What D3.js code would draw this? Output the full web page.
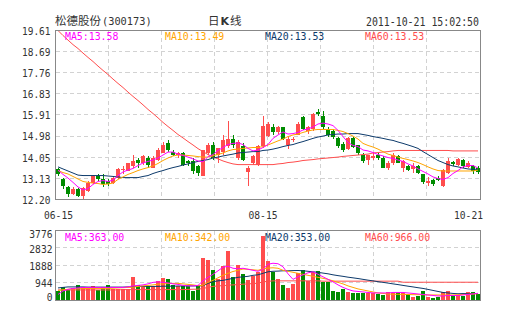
<!DOCTYPE html>
<html><head><meta charset="utf-8">
<script src="https://cdn.jsdelivr.net/npm/d3@7"></script>
<style>html,body{margin:0;padding:0;background:#fff}svg{display:block}</style>
</head><body>
<svg id="c" width="505" height="330"></svg>
<script>
// ---- data ----
const openP  = [13.52,13.08,12.73,12.42,12.64,12.35,12.57,12.94,13.25,13.10, 13.00,12.94,13.16,13.49,13.47,13.67,13.92,13.82,14.04,13.60, 13.95,14.26,14.69,14.30,14.13,14.22,13.87,13.91,13.65,13.23, 14.26,14.61,14.13,14.30,14.54,14.87,14.00,14.54,13.40,13.81, 13.73,14.54,14.98,15.40,15.15,15.36,14.61,14.82,15.05,15.80, 15.19,15.27,16.03,15.88,15.30,15.19,14.90,14.63,14.41,14.89, 14.57,14.17,13.95,14.03,14.17,14.03,13.59,13.81,14.09,13.59, 13.69,13.52,13.66,13.30,12.93,13.05,13.15,12.81,13.37,13.85, 13.73,13.92,13.63,13.66,13.59];
const highP  = [13.60,13.16,12.78,12.73,12.70,12.77,13.03,13.27,13.34,13.32, 13.08,13.25,13.56,13.69,13.82,14.13,14.04,14.17,14.09,14.09, 14.48,14.70,14.81,14.39,14.30,14.30,13.95,14.00,13.73,14.39, 14.66,14.74,14.48,15.01,15.63,15.01,14.83,14.66,13.69,14.17, 14.61,15.85,15.58,15.49,15.44,15.40,14.98,14.96,15.58,15.88, 15.44,16.01,16.18,16.07,15.40,15.27,14.96,14.70,14.96,14.94, 14.61,14.22,14.17,14.30,14.26,14.09,13.87,14.24,14.17,13.95, 13.73,13.81,13.73,13.34,13.20,13.10,13.21,13.54,14.03,13.91, 14.02,13.98,13.87,13.71,13.65];
const lowP   = [13.21,12.68,12.29,12.38,12.29,12.20,12.51,12.86,13.00,12.77, 12.81,12.90,13.12,13.34,13.43,13.60,13.60,13.73,13.60,13.56, 13.91,14.22,14.30,14.09,14.04,13.69,13.65,13.30,13.21,13.21, 14.17,13.95,13.82,14.17,14.48,14.48,13.95,13.87,12.78,13.73, 13.65,14.48,14.92,15.01,15.09,14.79,14.42,14.70,15.01,15.23, 15.09,15.19,15.84,15.31,14.92,14.87,14.48,14.30,14.35,14.48, 14.17,13.82,13.73,13.95,13.95,13.56,13.49,13.73,13.78,13.40, 13.45,13.37,13.32,12.90,12.78,12.79,12.99,12.77,13.34,13.69, 13.69,13.60,13.58,13.30,13.34];
const closeP = [13.30,12.78,12.46,12.64,12.35,12.70,12.92,13.21,13.12,12.86, 12.86,13.14,13.52,13.53,13.78,13.88,13.78,14.09,13.73,14.04, 14.35,14.61,14.37,14.15,14.22,13.73,13.78,13.43,13.38,14.35, 14.59,14.04,14.44,14.83,14.87,14.61,14.70,13.95,13.60,14.10, 14.54,15.41,15.49,15.14,15.40,14.87,14.87,14.84,15.49,15.31, 15.36,15.93,15.93,15.39,15.01,14.96,14.54,14.37,14.90,14.52, 14.25,13.88,14.13,14.11,14.03,13.59,13.81,14.17,13.81,13.88, 13.48,13.69,13.37,12.96,13.03,12.90,13.05,13.48,13.88,13.77, 13.98,13.66,13.81,13.44,13.40];
const volume = [465,700,520,645,805,695,655,755,560,700, 810,575,575,575,600,1260,805,750,780,750, 1040,1215,1120,810,780,765,765,490,755,2300, 2150,1650,1120,1850,2640,1250,1900,1420,1105,1315, 1495,3500,2135,1505,1160,830,645,875,1450,1630, 1030,1505,1575,960,1000,505,410,590,410,365, 385,400,365,385,330,275,425,365,425,365, 310,180,235,510,190,125,180,425,480,270, 290,235,455,435,300];

const ma5  = [13.49,13.30,13.14,12.95,12.75,12.62,12.68,12.86,12.99,13.03, 12.99,13.05,13.25,13.41,13.49,13.56,13.69,13.80,13.87,13.93, 14.02,14.15,14.28,14.28,14.19,14.13,14.06,13.98,13.89,13.85, 14.08,14.17,14.35,14.48,14.61,14.66,14.68,14.61,14.44,14.33, 14.37,14.48,14.61,14.88,15.03,15.16,15.07,15.09,15.14,15.25, 15.29,15.38,15.51,15.55,15.51,15.44,15.23,14.96,14.70,14.57, 14.52,14.37,14.33,14.26,14.17,14.11,14.04,14.00,13.93,13.87, 13.76,13.67,13.54,13.43,13.32,13.19,13.12,13.08,13.16,13.34, 13.47,13.63,13.69,13.69,13.58];
const ma10 = [13.47,13.38,13.32,13.21,13.10,12.99,12.95,12.92,12.90,12.86, 12.88,12.92,13.08,13.19,13.30,13.38,13.47,13.54,13.60,13.67, 13.78,13.91,14.02,14.11,14.15,14.15,14.13,14.11,14.08,14.06, 14.06,14.13,14.17,14.24,14.33,14.39,14.41,14.44,14.46,14.48, 14.48,14.52,14.59,14.68,14.77,14.85,14.96,15.03,15.07,15.14, 15.20,15.25,15.27,15.27,15.27,15.27,15.23,15.18,15.09,14.98, 14.85,14.66,14.57,14.50,14.41,14.30,14.19,14.13,14.06,14.00, 13.95,13.89,13.82,13.73,13.63,13.54,13.47,13.45,13.45,13.45, 13.45,13.45,13.45,13.45,13.49];
const ma20 = [13.63,13.54,13.45,13.36,13.27,13.25,13.25,13.25,13.25,13.25, 13.23,13.21,13.19,13.16,13.16,13.16,13.16,13.21,13.25,13.34, 13.41,13.47,13.54,13.60,13.65,13.71,13.76,13.82,13.87,13.91, 13.95,14.02,14.06,14.11,14.15,14.19,14.24,14.26,14.28,14.30, 14.30,14.35,14.37,14.41,14.46,14.52,14.57,14.61,14.68,14.74, 14.81,14.88,14.94,14.98,15.03,15.05,15.07,15.07,15.09,15.09, 15.09,15.05,15.01,14.96,14.92,14.88,14.83,14.79,14.72,14.66, 14.59,14.52,14.44,14.30,14.17,14.04,13.91,13.82,13.73,13.67, 13.63,13.58,13.54,13.52,13.53];
const ma60 = [19.61,19.39,19.19,18.99,18.82,18.62,18.43,18.25,18.05,17.86, 17.68,17.48,17.29,17.11,16.91,16.72,16.54,16.35,16.15,15.97, 15.78,15.58,15.40,15.23,15.05,14.90,14.74,14.59,14.43,14.30, 14.17,14.06,13.98,13.89,13.82,13.76,13.73,13.73,13.73,13.73, 13.73,13.73,13.73,13.73,13.76,13.78,13.82,13.84,13.87,13.91, 13.93,13.95,13.98,14.00,14.02,14.04,14.06,14.09,14.11,14.13, 14.15,14.17,14.19,14.24,14.26,14.28,14.30,14.33,14.35,14.35, 14.35,14.35,14.35,14.35,14.35,14.35,14.35,14.35,14.35,14.33, 14.33,14.33,14.33,14.33,14.33];

const vma5  = [301,492,575,629,657,684,684,684,684,684, 684,684,684,684,711,766,793,821,876,958, 985,958,930,876,848,793,766,766,793,1040, 1231,1395,1587,1778,1833,1724,1696,1724,1669,1614, 1560,1669,1943,1997,1970,1806,1423,1122,1259,1368, 1477,1532,1395,1259,1122,985,821,684,575,492, 465,438,410,383,383,383,383,410,410,410, 383,356,328,301,274,246,219,219,246,246, 246,274,301,328,363];
const vma10 = [520,547,585,602,613,618,629,629,629,629, 629,640,657,668,684,700,739,766,793,821, 859,876,892,903,903,876,848,821,777,793, 958,1067,1204,1341,1450,1549,1614,1680,1669,1642, 1614,1696,1735,1751,1724,1614,1560,1505,1450,1395, 1341,1286,1231,1176,1122,1040,958,876,766,684, 602,547,492,438,383,356,328,312,312,301, 301,290,290,290,274,274,274,274,274,274, 290,300,310,325,342];
const vma20 = [657,684,711,711,711,711,700,700,700,700, 700,700,700,700,711,722,739,739,739,739, 739,750,750,750,760,760,766,766,766,777, 903,996,1040,1067,1122,1176,1231,1259,1286,1341, 1368,1450,1532,1560,1570,1587,1587,1598,1603,1587, 1560,1532,1505,1461,1423,1368,1324,1286,1240,1204, 1166,1122,1078,1040,996,958,919,876,837,793, 750,711,668,629,575,520,465,410,383,356, 339,350,350,353,353];
const vma60 = [547,547,547,547,547,547,547,547,547,547, 547,547,547,564,564,564,564,564,564,564, 564,564,564,564,564,564,575,585,585,629, 684,739,766,782,804,821,837,859,876,892, 914,985,1012,1040,1040,1040,1040,1040,1040,1040, 1040,1040,1040,1023,1023,1023,1023,1023,1023,1023, 1023,1023,1023,1023,1023,1023,1023,1023,1023,966, 966,966,966,966,966,966,966,966,966,966, 966,966,966,966,966];

const priceTicks = [19.61,18.69,17.76,16.83,15.91,14.98,14.05,13.13,12.20];
const volTicks = [3776,2832,1888,944,0];
const xTickIdx = [0,41,84];
const xTickLabels = ["06-15","08-15","10-21"];
const priceLegend = ["MA5:13.58","MA10:13.49","MA20:13.53","MA60:13.53"];
const volLegend = ["MA5:363.00","MA10:342.00","MA20:353.00","MA60:966.00"];
const stockName = "松德股份", stockCode = "(300173)", stamp = "2011-10-21 15:02:50";

// ---- styles ----
const UP = "#ff4d4d", DOWN = "#008c00";
const C5 = "#ff00ff", C10 = "#ffa500", C20 = "#0d3a6b", C60 = "#ff4d4d";
const maColors = [C5, C10, C20, C60];
const MONO = "'DejaVu Sans Mono', 'Liberation Mono', monospace";
const CJK = "'Noto Sans CJK SC', sans-serif";

const svg = d3.select("#c");
svg.append("rect").attr("width",505).attr("height",330).attr("fill","#fff");

const n = closeP.length;
const x = d3.scaleBand().domain(d3.range(n)).range([56, 481]);
const cx = i => x(i) + 2;
const y = d3.scaleLinear().domain([12.20, 19.61]).range([199.5, 30.5]);
const yv = d3.scaleLinear().domain([0, 3776]).range([300, 230.5]);

function monoText(g, str, px, py, anchor, size, adv, fill){
  return g.append("text").attr("x",px).attr("y",py).attr("text-anchor",anchor||"start")
    .attr("font-family",MONO).attr("font-size",size).attr("fill",fill||"#333")
    .attr("textLength", str.length*adv).attr("lengthAdjust","spacingAndGlyphs").text(str);
}

// header
const head = svg.append("g");
head.append("text").attr("x",55).attr("y",25).attr("font-family",CJK).attr("font-size",11.5).attr("fill","#333").text(stockName);
monoText(head, stockCode, 102, 25, "start", 11, 6.2);
const t2 = head.append("text").attr("x",208).attr("y",25).attr("font-family",CJK).attr("font-size",11.5).attr("fill","#333");
t2.append("tspan").text("日");
t2.append("tspan").attr("dx",1).attr("font-family","'DejaVu Sans', sans-serif").attr("font-weight","bold").attr("font-size",11).text("K");
t2.append("tspan").attr("dx",1).text("线");
monoText(head, stamp, 479, 25.5, "end", 11.5, 5.95);

// grid + frames
const gridX = d3.range(1,8).map(k => 55 + Math.floor(425*k/8) + 0.5);
function drawGrid(top, bottom, ys){
  const g = svg.append("g").attr("stroke","#d2d2d2").attr("stroke-dasharray","4,3").attr("shape-rendering","crispEdges");
  gridX.forEach(gx => g.append("line").attr("x1",gx).attr("x2",gx).attr("y1",top).attr("y2",bottom));
  ys.forEach(gy => g.append("line").attr("x1",55.5).attr("x2",480.5).attr("y1",gy).attr("y2",gy));
}
drawGrid(30.5, 199.5, priceTicks.slice(1,-1).map(t => Math.round(y(t)-0.5)+0.5));
drawGrid(230.5, 300.5, volTicks.slice(1,-1).map(t => Math.round(yv(t)-0.5)+0.5));

// y labels
const yl = svg.append("g");
priceTicks.forEach(t => monoText(yl, t.toFixed(2), 50.5, y(t)+4.3, "end", 10.5, 5.7));
volTicks.forEach((t,k) => {
  let py = yv(t)+4.8;
  if (k===0) py = 237.5;
  if (k===volTicks.length-1) py = 301;
  monoText(yl, String(t), 52.5, py, "end", 10.5, 5.8);
});
// x labels
xTickIdx.forEach((idx,k) => {
  const s = xTickLabels[k];
  let px = cx(idx);
  const w = s.length*5.8;
  px = Math.min(px, 483 - w/2);
  px = Math.max(px, 44 + w/2);
  monoText(yl, s, px, 219, "middle", 10.5, 5.8);
});

// candles
const cg = svg.append("g").attr("shape-rendering","crispEdges");
d3.range(n).forEach(i => {
  const up = closeP[i] >= openP[i];
  const col = up ? UP : DOWN;
  cg.append("rect").attr("x", cx(i)).attr("width",1)
    .attr("y", y(highP[i])).attr("height", Math.max(1, y(lowP[i]) - y(highP[i]))).attr("fill",col);
  const top = y(Math.max(openP[i], closeP[i])), bot = y(Math.min(openP[i], closeP[i]));
  cg.append("rect").attr("x", x(i)).attr("width",4)
    .attr("y", top).attr("height", Math.max(1, bot-top)).attr("fill",col);
});

// volume bars
const vg = svg.append("g").attr("shape-rendering","crispEdges");
d3.range(n).forEach(i => {
  const up = closeP[i] >= openP[i];
  vg.append("rect").attr("x", x(i)-0.5).attr("width",4)
    .attr("y", yv(volume[i])).attr("height", yv(0)-yv(volume[i])).attr("fill", up?UP:DOWN);
});

// MA lines
svg.append("clipPath").attr("id","cp1").append("rect").attr("x",55).attr("y",30).attr("width",426).attr("height",170);
svg.append("clipPath").attr("id","cp2").append("rect").attr("x",55).attr("y",230).attr("width",426).attr("height",71);
const lineP = d3.line().x((d,i)=>cx(i)).y(d=>y(d));
const lineV = d3.line().x((d,i)=>cx(i)).y(d=>yv(d));
const lp = svg.append("g").attr("clip-path","url(#cp1)").attr("fill","none").attr("stroke-width",1);
[ma60, ma20, ma10, ma5].forEach((arr,k) => lp.append("path").attr("d", lineP(arr)).attr("stroke", [C60,C20,C10,C5][k]));
const lv = svg.append("g").attr("clip-path","url(#cp2)").attr("fill","none").attr("stroke-width",1);
[vma60, vma20, vma10, vma5].forEach((arr,k) => lv.append("path").attr("d", lineV(arr)).attr("stroke", [C60,C20,C10,C5][k]));

// frames
svg.append("rect").attr("x",55.5).attr("y",30.5).attr("width",425).attr("height",169).attr("fill","none").attr("stroke","#888").attr("shape-rendering","crispEdges");
svg.append("rect").attr("x",55.5).attr("y",230.5).attr("width",425).attr("height",70).attr("fill","none").attr("stroke","#888").attr("shape-rendering","crispEdges");

// legends
const lg = svg.append("g");
priceLegend.forEach((s,k) => monoText(lg, s, 65 + 100*k, 40, "start", 10.5, 5.93, maColors[k]));
volLegend.forEach((s,k) => monoText(lg, s, 65 + 100*k, 240.5, "start", 10.5, 5.93, maColors[k]));
</script>
</body></html>
